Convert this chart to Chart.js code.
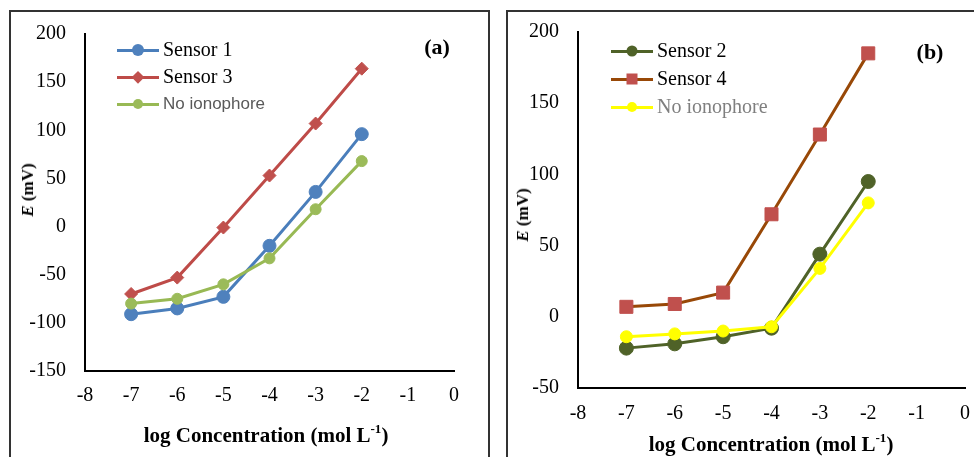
<!DOCTYPE html>
<html lang="en">
<head>
<meta charset="UTF-8">
<title>Potential response of the sensors</title>
<script src="https://cdn.jsdelivr.net/npm/chart.js@4.4.0/dist/chart.umd.min.js"></script>
<style>
    body { margin: 0; width: 974px; height: 457px; overflow: hidden; background: #fff; position: relative;
           font-family: 'Liberation Serif', 'Times New Roman', serif; color: #000; }
    .frame { position: absolute; border: 2px solid #333; box-sizing: border-box; }
    .wrap { position: absolute; top: 0; }
    .xtitle, .ytitle, .tag { position: absolute; white-space: nowrap; font-weight: bold; transform: translate(-50%, -50%); }
    .xtitle { font-size: 21px; }
    .xtitle sup { font-size: 13px; position: relative; top: -2px; vertical-align: top; }
    .ytitle { font-size: 17px; transform: translate(-50%, -50%) rotate(-90deg); }
    .tag { font-size: 22px; }
    .leg { position: absolute; height: 0; }
    .leg .ln { position: absolute; left: 0; width: 42px; height: 3px; top: -1.5px; }
    .leg .mk { position: absolute; transform: translate(-50%, -50%); top: 0; }
    .leg .tx { position: absolute; left: 46px; top: 0; transform: translateY(-52%); white-space: nowrap; }
</style>
</head>
<body>

<div class="frame" style="left:9px; top:10px; width:481px; height:470px;"></div>
<div class="frame" style="left:506px; top:10px; width:480px; height:470px;"></div>

<div class="wrap" style="left:0; width:490px;"><canvas id="chartA" width="490" height="457"></canvas></div>
<div class="wrap" style="left:490px; width:500px;"><canvas id="chartB" width="500" height="457"></canvas></div>

<div class="ytitle" style="left:28px; top:190px;"><i>E</i> (mV)</div>
<div class="xtitle" style="left:266px; top:435px;">log Concentration (mol L<sup>-1</sup>)</div>
<div class="tag" style="left:437px; top:47px;">(a)</div>

<div class="ytitle" style="left:523px; top:215px;"><i>E</i> (mV)</div>
<div class="xtitle" style="left:771px; top:444px;">log Concentration (mol L<sup>-1</sup>)</div>
<div class="tag" style="left:930px; top:52px;">(b)</div>

<div id="legendA"></div>
<div id="legendB"></div>

<script>
    // x values (log concentration) shared by both panels
    const logConc = [-7, -6, -5, -4, -3, -2];

    // panel (a)
    const sensor1 = [-91, -85, -73, -20, 36, 96];
    const sensor3 = [-70, -53, -1, 53, 107, 164];
    const noIonA = [-80, -75, -60, -33, 18, 68];

    // panel (b)
    const sensor2 = [-22, -19, -14, -8, 44, 95];
    const sensor4 = [7, 9, 17, 72, 128, 185];
    const noIonB = [-14, -12, -10, -7, 34, 80];

    const xRange = [-8, 0];
    const yRangeA = [-150, 200];
    const yRangeB = [-50, 200];
    const yStep = 50;

    const seriesA = [
        { label: 'Sensor 1', values: sensor1, line: '#4a7ebb', fill: '#4f81bd', style: 'circle', r: 6.5, order: 2,
          text: { color: '#000', font: "20px 'Liberation Serif', serif" }, mk: 12 },
        { label: 'Sensor 3', values: sensor3, line: '#be4b48', fill: '#c0504d', style: 'rectRot', r: 6.5, order: 1,
          text: { color: '#000', font: "20px 'Liberation Serif', serif" }, mk: 12 },
        { label: 'No ionophore', values: noIonA, line: '#98b954', fill: '#9bbb59', style: 'circle', r: 5.5, order: 0,
          text: { color: '#595959', font: "17px 'Liberation Sans', sans-serif" }, mk: 10 }
    ];

    const seriesB = [
        { label: 'Sensor 2', values: sensor2, line: '#4f6228', fill: '#4f6228', style: 'circle', r: 7, order: 2,
          text: { color: '#000', font: "20px 'Liberation Serif', serif" }, mk: 11 },
        { label: 'Sensor 4', values: sensor4, line: '#984807', fill: '#c0504d', style: 'rect', r: 9.2, order: 1,
          text: { color: '#000', font: "20px 'Liberation Serif', serif" }, mk: 11 },
        { label: 'No ionophore', values: noIonB, line: '#ffff00', fill: '#ffff00', style: 'circle', r: 6, order: 0,
          text: { color: '#7f7f7f', font: "20px 'Liberation Serif', serif" }, mk: 10 }
    ];

    Chart.defaults.font.family = "'Liberation Serif', 'Times New Roman', serif";
    Chart.defaults.color = '#000';

    function makeChart(id, series, yRange, geom) {
        const ctx = document.getElementById(id).getContext('2d');
        const datasets = series.map(s => ({
            label: s.label,
            data: logConc.map((x, i) => ({ x: x, y: s.values[i] })),
            borderColor: s.line,
            borderWidth: 3,
            pointStyle: s.style,
            pointRadius: s.r,
            pointBackgroundColor: s.fill,
            pointBorderColor: s.fill,
            pointBorderWidth: 1,
            order: s.order,
            tension: 0
        }));
        return new Chart(ctx, {
            type: 'line',
            data: { datasets: datasets },
            options: {
                responsive: false,
                animation: false,
                layout: { padding: { left: 0, top: geom.top, right: geom.right, bottom: 0 } },
                plugins: { legend: { display: false }, tooltip: { enabled: false } },
                scales: {
                    x: {
                        type: 'linear',
                        min: xRange[0],
                        max: xRange[1],
                        grid: { display: false, drawTicks: false },
                        border: { display: true, color: '#000', width: 2 },
                        ticks: { stepSize: 1, padding: geom.xPad, font: { size: 20 }, color: '#000',
                                 callback: v => String(v) },
                        afterFit: s => { s.height = geom.xHeight; }
                    },
                    y: {
                        min: yRange[0],
                        max: yRange[1],
                        grid: { display: false, drawTicks: false },
                        border: { display: true, color: '#000', width: 2 },
                        ticks: { stepSize: yStep, padding: 19, font: { size: 20 }, color: '#000',
                                 callback: v => String(v) },
                        afterFit: s => { s.width = geom.yWidth; }
                    }
                }
            }
        });
    }

    makeChart('chartA', seriesA, yRangeA, { top: 34, right: 36, xHeight: 86, yWidth: 85, xPad: 13 });
    makeChart('chartB', seriesB, yRangeB, { top: 32, right: 25, xHeight: 69, yWidth: 88, xPad: 14 });

    function markerCss(s) {
        const d = s.mk;
        let css = 'width:' + d + 'px;height:' + d + 'px;background:' + s.fill + ';';
        if (s.style === 'circle') css += 'border-radius:50%;';
        if (s.style === 'rectRot') css += 'width:' + (d * 0.72) + 'px;height:' + (d * 0.72) + 'px;transform:translate(-50%,-50%) rotate(45deg);';
        return css;
    }

    function buildLegend(id, series, left, rows) {
        const box = document.getElementById(id);
        series.forEach((s, i) => {
            const row = document.createElement('div');
            row.className = 'leg';
            row.style.left = left + 'px';
            row.style.top = rows[i] + 'px';
            row.innerHTML = `
                <div class="ln" style="background:${s.line}"></div>
                <div class="mk" style="left:21px;${markerCss(s)}"></div>
                <div class="tx" style="color:${s.text.color};font:${s.text.font}">${s.label}</div>
            `;
            box.appendChild(row);
        });
    }

    buildLegend('legendA', seriesA, 117, [50, 77, 104]);
    buildLegend('legendB', seriesB, 611, [51, 79, 107]);
</script>
</body>
</html>
